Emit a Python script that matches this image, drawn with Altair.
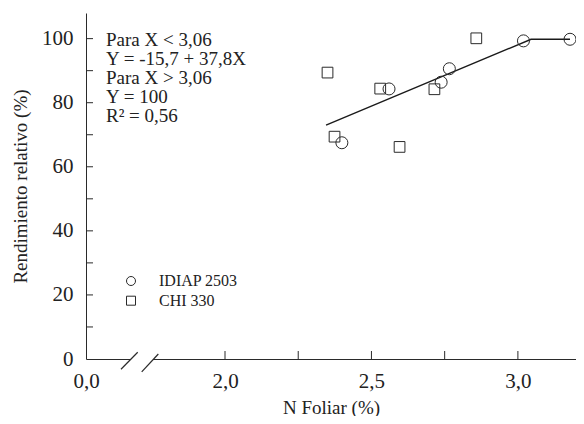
import altair as alt
import pandas as pd

# ---- data ----
SERIES = ["IDIAP 2503", "CHI 330"]
IDIAP_X = [2.399, 2.560, 2.738, 2.766, 3.019, 3.178]
IDIAP_Y = [67.5, 84.3, 86.4, 90.6, 99.3, 99.8]
CHI_X = [2.350, 2.374, 2.530, 2.596, 2.715, 2.858]
CHI_Y = [89.4, 69.4, 84.4, 66.2, 84.2, 100.1]
LINE_X = [2.345, 3.045, 3.178]
LINE_Y = [73.0, 99.8, 99.8]

X_ZERO = 1.5254            # axis position standing for "0,0" (broken axis)
X_MAX = 3.1984
X_LABEL_VALUES = [X_ZERO, 2.0, 2.5, 3.0]
X_TICKS = [2.0, 2.25, 2.5, 2.75, 3.0]
Y_LABEL_VALUES = [0, 20, 40, 60, 80, 100]
Y_TICKS = [10, 20, 30, 40, 50, 60, 70, 80, 90, 100]
Y_MAX = 108

ANNOT = ["Para X < 3,06", "Y = -15,7 + 37,8X", "Para X > 3,06", "Y = 100", "R\u00b2 = 0,56"]

SLASH_X = [1.6449, 1.7156]
SLASH_X2 = [1.7019, 1.7723]
SLASH_Y = [-3.2, -4.0]
SLASH_Y2 = [2.1, 1.56]
GAP_X = [1.6777]
GAP_X2 = [1.7542]

FONT = "Liberation Serif"
INK = "#2a2a2a"
W, H = 490, 346

idiap = pd.DataFrame({"x": IDIAP_X, "y": IDIAP_Y, "serie": [SERIES[0]] * len(IDIAP_X)})
chi = pd.DataFrame({"x": CHI_X, "y": CHI_Y, "serie": [SERIES[1]] * len(CHI_X)})
line_df = pd.DataFrame({"x": LINE_X, "y": LINE_Y})
xt = pd.DataFrame({"x": X_TICKS})
yt = pd.DataFrame({"y": Y_TICKS})
slash = pd.DataFrame({"x": SLASH_X, "x2": SLASH_X2, "y": SLASH_Y, "y2": SLASH_Y2})
gap = pd.DataFrame({"x": GAP_X, "x2": GAP_X2, "y": [0.0]})

xscale = alt.Scale(domain=[X_ZERO, X_MAX], nice=False, zero=False)
yscale = alt.Scale(domain=[0, Y_MAX], nice=False, zero=False)

x_axis = alt.Axis(
    values=X_LABEL_VALUES,
    labelExpr="datum.value < 1.9 ? '0,0' : replace(format(datum.value, '.1f'), '.', ',')",
    ticks=False, tickSize=0, grid=False, labelFlush=False, labelOverlap=False,
    labelFont=FONT, labelFontSize=21, labelColor="#222", labelPadding=11,
    domainColor=INK, domainWidth=1,
    title="N Foliar (%)", titleFont=FONT, titleFontSize=19, titleFontWeight="normal",
    titleColor="#222", titleY=54, titleBaseline="alphabetic",
)
y_axis = alt.Axis(
    values=Y_LABEL_VALUES,
    ticks=False, tickSize=0, grid=False, labelOverlap=False,
    labelFont=FONT, labelFontSize=21, labelColor="#222", labelPadding=13,
    domainColor=INK, domainWidth=1,
    title="Rendimiento relativo (%)", titleFont=FONT, titleFontSize=19,
    titleFontWeight="normal", titleColor="#222", titleAngle=270,
    titleX=-60, titleY=H / 2, titleBaseline="alphabetic", titleAlign="center",
)

X = alt.X("x:Q", scale=xscale, axis=x_axis)
Y = alt.Y("y:Q", scale=yscale, axis=y_axis)

shape_enc = alt.Shape(
    "serie:N",
    scale=alt.Scale(domain=SERIES, range=["circle", "square"]),
    legend=alt.Legend(
        title=None, orient="none", legendX=37, legendY=260,
        padding=0, rowPadding=3.7, labelFont=FONT, labelFontSize=16,
        labelColor="#222", labelOffset=20, symbolSize=81,
        symbolStrokeColor=INK, symbolFillColor="transparent",
        symbolStrokeWidth=1),
)

circles = alt.Chart(idiap).mark_point(filled=False, strokeWidth=1, opacity=1, color=INK, size=144).encode(
    x=X, y=Y, shape=shape_enc)
squares = alt.Chart(chi).mark_point(filled=False, strokeWidth=1, opacity=1, color=INK, size=115).encode(
    x=X, y=Y, shape=shape_enc)

fit = alt.Chart(line_df).mark_line(color="#1a1a1a", strokeWidth=1.4).encode(x=X, y=Y)

xticks = alt.Chart(xt).mark_rule(color=INK, strokeWidth=1).encode(
    x=X, y=alt.value(H), y2=alt.value(H - 8))
yticks = alt.Chart(yt).mark_rule(color=INK, strokeWidth=1).encode(
    y=Y, x=alt.value(0), x2=alt.value(7))

gap_rule = alt.Chart(gap).mark_rule(color="white", strokeWidth=3).encode(
    x=X, x2="x2:Q", y=Y)
slashes = alt.Chart(slash).mark_rule(color=INK, strokeWidth=1.2).encode(
    x=X, x2="x2:Q", y=Y, y2="y2:Q")

annot = alt.Chart(pd.DataFrame({"k": [0]})).mark_text(
    text=ANNOT, align="left", baseline="alphabetic", font=FONT, fontSize=19,
    lineHeight=19, color="#222",
).encode(x=alt.value(20), y=alt.value(33))

chart = alt.layer(xticks, yticks, gap_rule, slashes, fit, circles, squares, annot).properties(
    width=W, height=H,
    background="white",
    autosize=alt.AutoSizeParams(type="none"),
    padding={"left": 78, "top": 5, "right": 0, "bottom": 57},
).configure_view(stroke=None)

chart.save("out.html", embed_options={"renderer": "svg", "actions": False})
